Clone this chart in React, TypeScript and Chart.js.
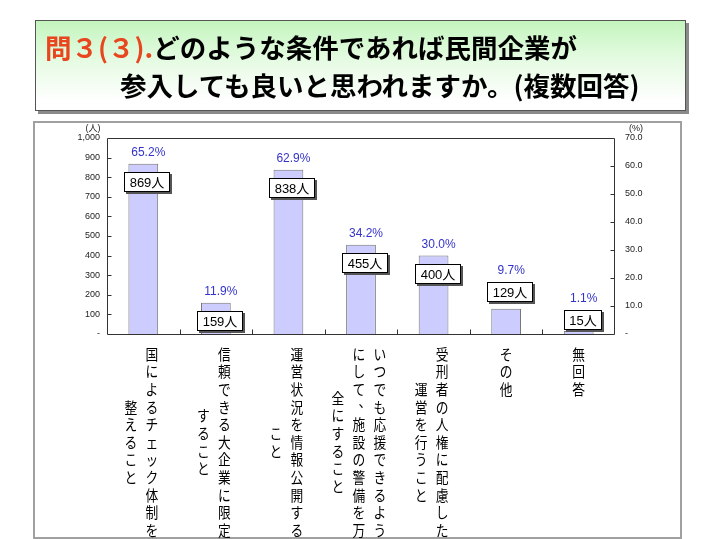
import { useEffect, useRef } from "react";
import { Chart, registerables } from "chart.js";

Chart.register(...registerables);

// ---- data ----
const categories: string[][] = [
  ["国によるチェック体制を", "整えること"],
  ["信頼できる大企業に限定", "すること"],
  ["運営状況を情報公開する", "こと"],
  ["いつでも応援できるよう", "にして、施設の警備を万", "全にすること"],
  ["受刑者の人権に配慮した", "運営を行うこと"],
  ["その他"],
  ["無回答"],
];
const counts = [869, 159, 838, 455, 400, 129, 15];
const percents = [65.2, 11.9, 62.9, 34.2, 30.0, 9.7, 1.1];
const countAxisMax = 1000;
const countAxisStep = 100;
const percentAxisMax = 70;
const percentAxisStep = 10;
const countUnit = "(人)";
const percentUnit = "(%)";
const countSuffix = "人";
const titleLead = "問３(３).";
const titleRest1 = "どのような条件であれば民間企業が";
const titleLine2 = "参入しても良いと思われますか。(複数回答)";

const LATIN = "'Liberation Sans', Arial, 'Noto Sans CJK JP', sans-serif";
const CJK = "'Noto Sans CJK JP', sans-serif";

const overlay = {
  id: "overlay",
  afterDatasetsDraw(chart: any) {
    const { ctx, chartArea: a, scales } = chart;
    const ys = scales.y;
    const xs = scales.x;
    ctx.save();
    ctx.strokeStyle = "#333";
    ctx.lineWidth = 1;
    const L = Math.round(a.left) + 0.5;
    const R = Math.round(a.right) - 0.5;
    const T = Math.round(a.top) + 0.5;
    const B = Math.round(a.bottom) + 0.5;
    ctx.beginPath();
    ctx.rect(L, T, R - L, B - T);
    for (let v = countAxisStep; v < countAxisMax; v += countAxisStep) {
      const py = Math.round(ys.getPixelForValue(v)) + 0.5;
      ctx.moveTo(L, py);
      ctx.lineTo(L + 4, py);
    }
    const y1 = scales.y1;
    for (let v = percentAxisStep; v < percentAxisMax; v += percentAxisStep) {
      const py = Math.round(y1.getPixelForValue(v)) + 0.5;
      ctx.moveTo(R, py);
      ctx.lineTo(R - 4, py);
    }
    for (let i = 1; i < categories.length; i++) {
      const px = Math.round((xs.getPixelForValue(i - 1) + xs.getPixelForValue(i)) / 2) + 0.5;
      ctx.moveTo(px, B);
      ctx.lineTo(px, B - 5);
    }
    ctx.stroke();

    // value labels
    const meta = chart.getDatasetMeta(0);
    meta.data.forEach((bar: any, i: number) => {
      const text = counts[i] + countSuffix;
      ctx.font = `13px ${LATIN}`;
      const tw = ctx.measureText(text).width;
      const bw = Math.round(tw + 11);
      const bh = 20;
      const barH = a.bottom - bar.y;
      let boxTop: number;
      if (barH >= bh + 8) boxTop = bar.y + 8;
      else if (barH >= 10) boxTop = bar.y - 7 - bh;
      else boxTop = a.bottom - 4 - bh;
      boxTop = Math.round(boxTop);
      const cx = bar.x + 4;
      const boxLeft = Math.round(cx - bw / 2);
      ctx.fillStyle = "#555";
      ctx.fillRect(boxLeft + 2, boxTop + 2, bw, bh);
      ctx.fillStyle = "#fff";
      ctx.fillRect(boxLeft, boxTop, bw, bh);
      ctx.strokeStyle = "#000";
      ctx.strokeRect(boxLeft + 0.5, boxTop + 0.5, bw - 1, bh - 1);
      ctx.fillStyle = "#000";
      ctx.textAlign = "center";
      ctx.textBaseline = "middle";
      ctx.fillText(text, boxLeft + bw / 2, boxTop + bh / 2 + 1);

      const pTop = Math.min(bar.y, boxTop);
      ctx.font = `12px ${LATIN}`;
      ctx.fillStyle = "#3333CC";
      ctx.fillText(percents[i].toFixed(1) + "%", bar.x + 5, pTop - 11);
    });

    // category labels (vertical)
    const pitch = 17.6;
    const colGap = 21;
    const top0 = a.bottom + 20;
    ctx.fillStyle = "#000";
    ctx.font = `15px ${CJK}`;
    ctx.textAlign = "center";
    ctx.textBaseline = "middle";
    categories.forEach((lines, i) => {
      const cx = xs.getPixelForValue(i);
      const n = lines.length;
      const maxLen = Math.max(...lines.map((l) => [...l].length));
      lines.forEach((line, j) => {
        const colX = cx + ((n - 1) / 2 - j) * colGap - (n > 1 ? 2 : 0);
        const chars = [...line];
        const off = ((maxLen - chars.length) / 2) * pitch;
        chars.forEach((ch, k) => {
          let px = colX;
          let py = top0 + off + k * pitch;
          if ("、。".includes(ch)) {
            px += 6;
            py -= 6;
          }
          ctx.save();
          ctx.translate(px, py);
          ctx.scale(0.85, 1);
          ctx.fillText(ch, 0, 0);
          ctx.restore();
        });
      });
    });

    // units
    ctx.font = `9px ${LATIN}`;
    ctx.fillStyle = "#222";
    ctx.textAlign = "center";
    ctx.fillText(countUnit, a.left - 14, a.top - 9);
    ctx.fillText(percentUnit, a.right + 21, a.top - 9);
    ctx.restore();
  },
};

export default function App() {
  const ref = useRef<HTMLCanvasElement | null>(null);
  useEffect(() => {
    if (!ref.current) return;
    const chart = new Chart(ref.current, {
      type: "bar",
      data: {
        labels: categories.map((c) => c.join("")),
        datasets: [
          {
            data: counts,
            backgroundColor: "#CCCCFF",
            borderColor: "#777",
            borderWidth: 1,
            barPercentage: 0.41,
            categoryPercentage: 1,
            yAxisID: "y",
          },
        ],
      },
      options: {
        animation: false,
        responsive: false,
        devicePixelRatio: 1,
        layout: { padding: { left: 0, right: 0, top: 138, bottom: 0 } },
        plugins: { legend: { display: false }, tooltip: { enabled: false }, title: { display: false } },
        scales: {
          x: {
            type: "category",
            grid: { display: false, drawTicks: false },
            border: { display: false },
            ticks: { display: false },
            afterFit: (s: any) => {
              s.height = 539 - 334;
            },
          },
          y: {
            position: "left",
            min: 0,
            max: countAxisMax,
            grid: { display: false, drawTicks: false },
            border: { display: false },
            ticks: {
              stepSize: countAxisStep,
              padding: 7,
              color: "#222",
              font: { size: 9, family: LATIN },
              callback: (v: any) => (v === 0 ? "-" : Number(v).toLocaleString("en-US")),
            },
            afterFit: (s: any) => {
              s.width = 107;
            },
          },
          y1: {
            position: "right",
            display: true,
            min: 0,
            max: percentAxisMax,
            grid: { display: false, drawTicks: false },
            border: { display: false },
            ticks: {
              stepSize: percentAxisStep,
              padding: 10,
              color: "#222",
              font: { size: 9, family: LATIN },
              callback: (v: any) => (v === 0 ? "-" : Number(v).toFixed(1)),
            },
            afterFit: (s: any) => {
              s.width = 720 - 615;
            },
          },
        },
      },
      plugins: [overlay],
    });
    return () => chart.destroy();
  }, []);

  const lineStyle: any = {
    position: "absolute",
    fontFamily: CJK,
    fontSize: 26.5,
    lineHeight: "26px",
    fontWeight: "bold",
    whiteSpace: "nowrap",
    color: "#000",
  };

  return (
    <div style={{ position: "absolute", left: 0, top: 0, width: 720, height: 539, background: "#fff", overflow: "hidden" }}>
      <div
        style={{
          position: "absolute",
          left: 33,
          top: 121,
          width: 649,
          height: 418,
          border: "2px solid #A0A0A0",
          boxSizing: "border-box",
        }}
      />
      <canvas ref={ref} width={720} height={539} style={{ position: "absolute", left: 0, top: 0, width: 720, height: 539 }} />
      <div
        style={{
          position: "absolute",
          left: 35,
          top: 20,
          width: 651,
          height: 91,
          boxSizing: "border-box",
          border: "1px solid #555",
          background: "linear-gradient(to bottom, #C4F5BE 0%, #E6FBE3 45%, #FFFFFF 90%)",
          boxShadow: "3px 3px 0 #8A8A8A",
        }}
      />
      <div style={{ ...lineStyle, left: 45, top: 34 }}>
        <span style={{ color: "#E8461E" }}>{titleLead}</span>
        {titleRest1}
      </div>
      <div style={{ ...lineStyle, left: 120, top: 72 }}>{titleLine2}</div>
    </div>
  );
}
